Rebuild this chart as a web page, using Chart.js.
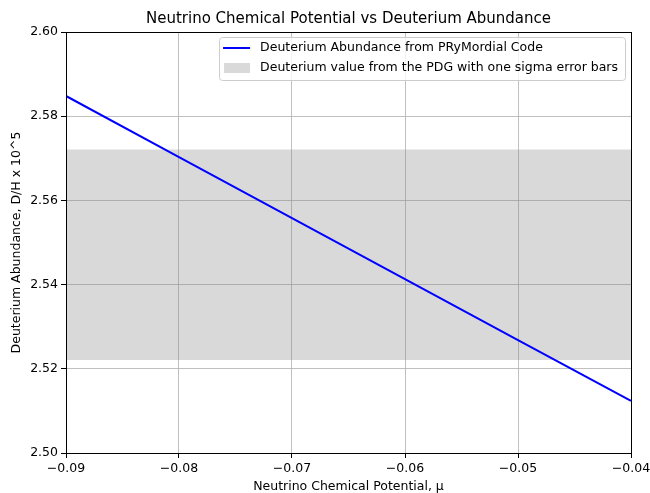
<!DOCTYPE html>
<html>
<head>
<meta charset="utf-8">
<script src="https://cdn.jsdelivr.net/npm/chart.js@4.4.1/dist/chart.umd.min.js"></script>
<style>
  html, body { margin: 0; padding: 0; background: #fff; }
  #wrap { width: 650px; height: 493px; }
</style>
</head>
<body>
<div id="wrap"><canvas id="chart"></canvas></div>
<script>
// values
const muValues = [-0.09, -0.08, -0.07, -0.06, -0.05, -0.04];
const deuteriumValues = [2.5848, 2.5703, 2.5558, 2.5413, 2.5268, 2.5124];
const bandX = [-0.09, -0.04];
const bandLow = 2.5221;
const bandHigh = 2.5721;
const xTicks = [-0.09, -0.08, -0.07, -0.06, -0.05, -0.04];
const yTicks = [2.50, 2.52, 2.54, 2.56, 2.58, 2.60];

const lineLabel = 'Deuterium Abundance from PRyMordial Code';
const bandLabel = 'Deuterium value from the PDG with one sigma error bars';

const FONT = 'DejaVu Sans, Noto Sans, sans-serif';
const minus = s => s.replace('-', '\u2212');

// black frame round the axes, like matplotlib spines
const framePlugin = {
  id: 'frame',
  afterDatasetsDraw(chart) {
    const { ctx, chartArea: a } = chart;
    ctx.save();
    ctx.strokeStyle = '#000';
    ctx.lineWidth = 1;
    ctx.strokeRect(Math.round(a.left) + 0.5, Math.round(a.top) + 0.5,
      Math.round(a.right - a.left), Math.round(a.bottom - a.top));
    ctx.restore();
  }
};

// legend box inside the plot, top right
const boxLegend = {
  id: 'boxLegend',
  afterDraw(chart) {
    const { ctx, chartArea: a } = chart;
    ctx.save();
    ctx.font = '12.5px ' + FONT;
    const w1 = ctx.measureText(lineLabel).width;
    const w2 = ctx.measureText(bandLabel).width;
    const boxW = Math.max(w1, w2) + 48;
    const boxH = 43;
    const x = a.right - 6 - boxW;
    const y = a.top + 5;
    ctx.fillStyle = 'rgba(255,255,255,0.8)';
    ctx.strokeStyle = '#cccccc';
    ctx.lineWidth = 1;
    ctx.beginPath();
    ctx.roundRect(x + 0.5, y + 0.5, boxW, boxH, 3);
    ctx.fill();
    ctx.stroke();

    // line entry
    const r1 = y + 11;
    ctx.strokeStyle = '#0000ff';
    ctx.lineWidth = 2;
    ctx.beginPath();
    ctx.moveTo(x + 4, r1);
    ctx.lineTo(x + 31, r1);
    ctx.stroke();

    // band entry
    const r2 = y + 31;
    ctx.fillStyle = 'rgba(128,128,128,0.3)';
    ctx.fillRect(x + 5, r2 - 5, 26, 10);

    ctx.fillStyle = '#000';
    ctx.textBaseline = 'middle';
    ctx.fillText(lineLabel, x + 41, r1);
    ctx.fillText(bandLabel, x + 41, r2);
    ctx.restore();
  }
};

const ctx = document.getElementById('chart').getContext('2d');
const chart = new Chart(ctx, {
  type: 'line',
  data: {
    datasets: [
      {
        label: lineLabel,
        data: muValues.map((m, i) => ({ x: m, y: deuteriumValues[i] })),
        borderColor: '#0000ff',
        borderWidth: 2,
        pointRadius: 0,
        fill: false,
        tension: 0,
        order: 0
      },
      {
        label: 'band low',
        data: bandX.map(m => ({ x: m, y: bandLow })),
        borderWidth: 0,
        borderColor: 'rgba(0,0,0,0)',
        pointRadius: 0,
        fill: false,
        order: 1
      },
      {
        label: bandLabel,
        data: bandX.map(m => ({ x: m, y: bandHigh })),
        borderWidth: 0,
        borderColor: 'rgba(0,0,0,0)',
        backgroundColor: 'rgba(128,128,128,0.3)',
        pointRadius: 0,
        fill: 1,
        order: 1
      }
    ]
  },
  options: {
    responsive: true,
    maintainAspectRatio: false,
    animation: false,
    layout: { padding: { top: 0, right: 19, bottom: 0, left: 0 } },
    plugins: {
      legend: { display: false },
      tooltip: { enabled: false },
      title: {
        display: true,
        fullSize: false,
        text: 'Neutrino Chemical Potential vs Deuterium Abundance',
        color: '#000',
        font: { family: FONT, size: 15, weight: 'normal', lineHeight: 1 },
        padding: { top: 12, bottom: 5 }
      },
      filler: { propagate: false }
    },
    scales: {
      x: {
        type: 'linear',
        min: -0.09,
        max: -0.04,
        afterBuildTicks: s => { s.ticks = xTicks.map(v => ({ value: v })); },
        afterFit: s => { s.height = 40; s.paddingLeft = 0; s.paddingRight = 0; },
        ticks: {
          color: '#000',
          font: { family: FONT, size: 12.5 },
          padding: 3,
          maxRotation: 0,
          callback: v => minus(v.toFixed(2))
        },
        grid: { color: '#b0b0b0', lineWidth: 0.8, tickLength: 5, tickColor: '#000', tickWidth: 1 },
        border: { color: '#000', width: 1 },
        title: {
          display: true,
          text: 'Neutrino Chemical Potential, \u03bc',
          color: '#000',
          font: { family: FONT, size: 12.5, lineHeight: 1 },
          padding: { top: 0, bottom: 0 }
        }
      },
      y: {
        min: 2.50,
        max: 2.60,
        afterBuildTicks: s => { s.ticks = yTicks.map(v => ({ value: v })); },
        afterFit: s => { s.width = 66; s.paddingTop = 0; s.paddingBottom = 0; },
        ticks: {
          color: '#000',
          font: { family: FONT, size: 12.5 },
          padding: 3,
          callback: v => v.toFixed(2)
        },
        grid: { color: '#b0b0b0', lineWidth: 0.8, tickLength: 5, tickColor: '#000', tickWidth: 1 },
        border: { color: '#000', width: 1 },
        title: {
          display: true,
          text: 'Deuterium Abundance, D/H x 10^5',
          color: '#000',
          font: { family: FONT, size: 12.5, lineHeight: 1 },
          padding: { top: 10, bottom: 0 }
        }
      }
    }
  },
  plugins: [framePlugin, boxLegend]
});
</script>
</body>
</html>
